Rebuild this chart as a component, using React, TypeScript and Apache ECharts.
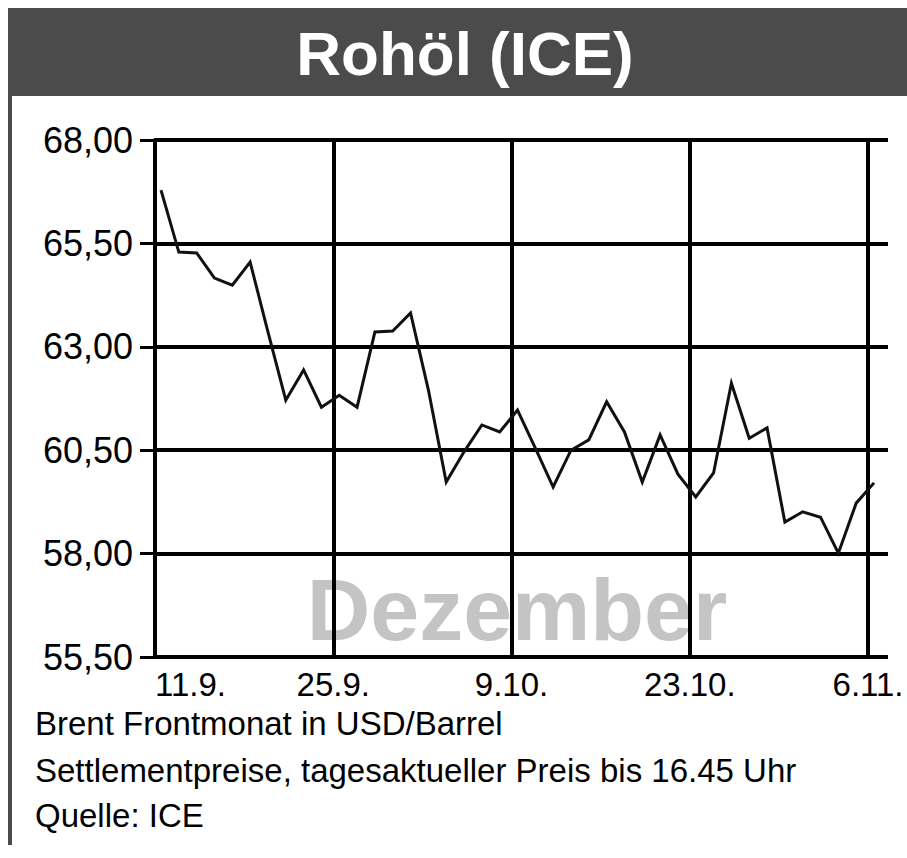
import React, { useEffect, useRef } from 'react';
import * as echarts from 'echarts';

// ---- data ----
const titleText = 'Rohöl (ICE)';
const watermarkText = 'Dezember';
const footerLines = [
  'Brent Frontmonat in USD/Barrel',
  'Settlementpreise, tagesaktueller Preis bis 16.45 Uhr',
  'Quelle: ICE',
];
// x-axis tick labels, one every 10 trading days
const xTickLabels = ['11.9.', '25.9.', '9.10.', '23.10.', '6.11.'];
// y-axis range and step
const yMin = 55.5;
const yMax = 68;
const yStep = 2.5;
// daily settlement prices (USD/barrel), trading days from 11.9. to 6.11.
const prices = [
  66.79, 65.29, 65.27, 64.66, 64.49, 65.05, 63.36, 61.71, 62.44, 61.54,
  61.83, 61.54, 63.36, 63.38, 63.82, 61.96, 59.73, 60.46, 61.11, 60.94,
  61.47, 60.55, 59.61, 60.5, 60.75, 61.67, 60.94, 59.73, 60.87, 59.92,
  59.37, 59.95, 62.12, 60.79, 61.04, 58.76, 59.01, 58.88, 58.01, 59.22,
  59.71,
];

const FONT = '"Liberation Sans", Arial, Helvetica, sans-serif';

export default function App() {
  const ref = useRef<HTMLDivElement>(null);

  useEffect(() => {
    if (!ref.current) return;
    const chart = echarts.init(ref.current, null, { renderer: 'svg' });

    const plotLeft = 155;
    const plotTop = 140;
    const plotHeight = 517;
    const vertWidth = 713; // last vertical grid line
    const horizWidth = 733; // horizontal lines run a bit further right
    const days = prices.length - 1;
    const pxPerDay = vertWidth / days;
    const pointShift = 6 / pxPerDay; // points sit slightly right of the date lines
    const extra = (horizWidth - vertWidth) / pxPerDay;

    const option: any = {
      animation: false,
      backgroundColor: '#ffffff',
      grid: [
        { left: plotLeft, top: plotTop, width: horizWidth, height: plotHeight, containLabel: false },
        { left: plotLeft, top: plotTop, width: vertWidth, height: plotHeight, containLabel: false },
      ],
      xAxis: [
        {
          gridIndex: 0,
          type: 'value',
          min: -pointShift,
          max: days - pointShift + extra,
          show: false,
        },
        {
          gridIndex: 1,
          type: 'value',
          min: 0,
          max: days,
          interval: 10,
          axisLine: { show: false, onZero: false },
          axisTick: { show: false },
          splitLine: { show: true, lineStyle: { color: '#000', width: 4 } },
          axisLabel: {
            show: true,
            showMinLabel: true,
            showMaxLabel: true,
            alignMinLabel: 'left',
            margin: 11,
            color: '#000',
            fontFamily: FONT,
            fontSize: 33,
            formatter: (v: number) => xTickLabels[Math.round(v / 10)] ?? '',
          },
        },
      ],
      yAxis: [
        {
          gridIndex: 0,
          type: 'value',
          min: yMin,
          max: yMax,
          interval: yStep,
          axisLine: { show: true, onZero: false, lineStyle: { color: '#000', width: 4 } },
          axisTick: { show: true, length: 15, lineStyle: { color: '#000', width: 3 } },
          splitLine: { show: true, lineStyle: { color: '#000', width: 4 } },
          axisLabel: {
            show: true,
            margin: 22,
            color: '#000',
            fontFamily: FONT,
            fontSize: 36,
            formatter: (v: number) => v.toFixed(2).replace('.', ','),
          },
        },
        { gridIndex: 1, type: 'value', min: yMin, max: yMax, show: false },
      ],
      series: [
        {
          type: 'line',
          xAxisIndex: 0,
          yAxisIndex: 0,
          data: prices.map((p, i) => [i, p]),
          symbol: 'none',
          showSymbol: false,
          lineStyle: { color: '#111', width: 3, join: 'miter' },
          z: 5,
        },
      ],
      graphic: [
        {
          type: 'rect',
          z: -5,
          shape: { x: 8, y: 8, width: 899, height: 88 },
          style: { fill: '#4b4b4b' },
        },
        {
          type: 'rect',
          z: -5,
          shape: { x: 8, y: 96, width: 4, height: 749 },
          style: { fill: '#4b4b4b' },
        },
        {
          type: 'text',
          z: 10,
          x: 465,
          y: 53,
          style: {
            text: titleText,
            fill: '#ffffff',
            fontFamily: FONT,
            fontSize: 62,
            fontWeight: 'bold',
            textAlign: 'center',
            textVerticalAlign: 'middle',
          },
        },
        {
          type: 'text',
          z: -10,
          x: 517,
          y: 609,
          style: {
            text: watermarkText,
            fill: '#c4c4c4',
            fontFamily: FONT,
            fontSize: 88,
            fontWeight: 'bold',
            textAlign: 'center',
            textVerticalAlign: 'middle',
          },
        },
        ...footerLines.map((t, i) => ({
          type: 'text',
          z: 10,
          x: 35,
          y: [723, 770, 815][i],
          style: {
            text: t,
            fill: '#000',
            fontFamily: FONT,
            fontSize: 33,
            textAlign: 'left',
            textVerticalAlign: 'middle',
          },
        })),
      ],
    };

    chart.setOption(option);
    return () => {
      chart.dispose();
    };
  }, []);

  return (
    <div
      ref={ref}
      style={{ position: 'absolute', left: 0, top: 0, width: 907, height: 858 }}
    />
  );
}
